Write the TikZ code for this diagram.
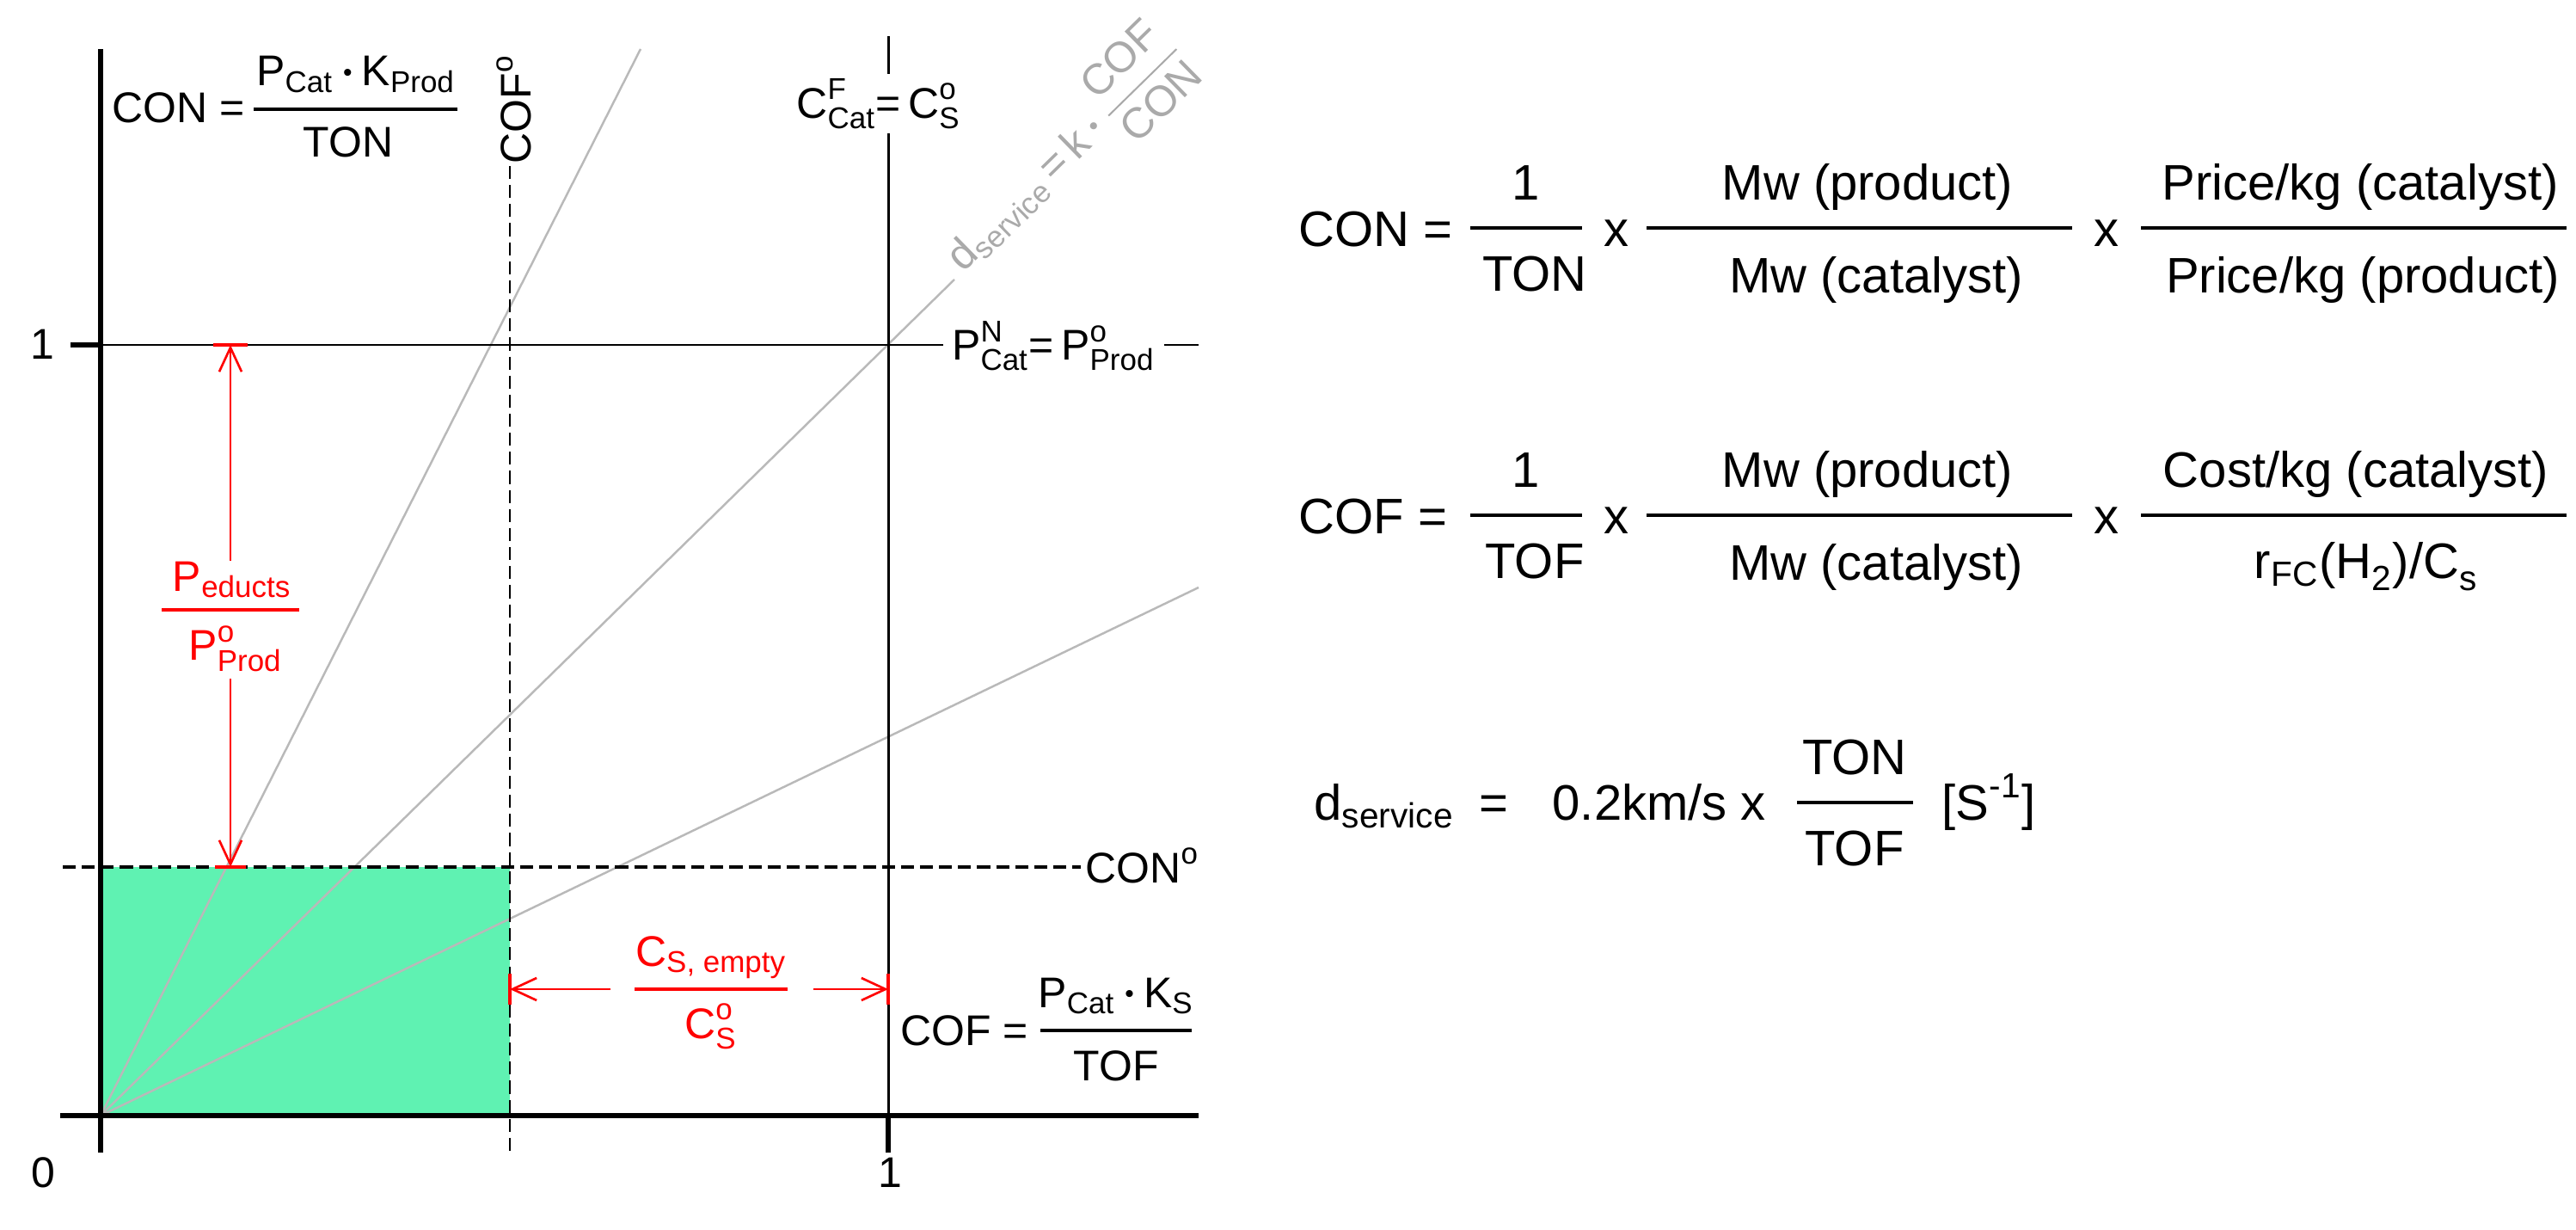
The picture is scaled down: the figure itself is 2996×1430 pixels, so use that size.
\documentclass[tikz,border=0pt]{standalone}
\usepackage{fontspec}
\setmainfont{Liberation Sans}
\usepackage{amsmath}
\usetikzlibrary{arrows.meta}
\newcommand\tx[1]{\text{#1}}
\newcommand\bdot{\mathbin{\vcenter{\hbox{\scalebox{0.6}{\textbullet}}}}}
\newcommand\Lf{\fontsize{14.2}{17}\selectfont}
\newcommand\Rf{\fontsize{16.5}{20}\selectfont}
\definecolor{mint}{RGB}{95,242,178}
\definecolor{lgray}{RGB}{185,185,185}
\definecolor{tgray}{RGB}{170,170,170}
\begin{document}
\begin{tikzpicture}[x=0.01cm,y=-0.01cm,
  axis/.style={line width=1.7pt},
  thinline/.style={line width=0.85pt},
  dashv/.style={line width=0.8pt, dash pattern=on 4.3pt off 2pt},
  dashh/.style={line width=1.1pt, dash pattern=on 4.3pt off 2pt},
  ray/.style={lgray, line width=0.7pt},
  fbar/.style={line width=1.1pt},
  lbl/.style={font=\Lf, inner sep=0pt},
  rlbl/.style={font=\Rf, inner sep=0pt},
  redarr/.style={red, line width=0.75pt, -{Straight Barb[length=2.8mm,width=2.6mm,line width=0.75pt]}},
  redbar/.style={red, line width=1.3pt},
  redfbar/.style={red, line width=0.9pt},
]
\useasboundingbox (0,0) rectangle (2996,1430);

% key coordinates
\coordinate (O) at (117,1297);
\coordinate (X1) at (1033,1297);
\coordinate (Y1) at (117,401);
\coordinate (C1) at (1033,401);
\coordinate (CONo) at (117,1008);
\coordinate (COFo) at (593,1297);

% green region
\fill[mint] (CONo) rectangle (COFo);

% gray rays
\draw[ray] (O) -- (745,57);
\draw[ray] (O) -- (1110,325) coordinate (rayend);
\draw[ray] (O) -- (1394,683);

% dashed lines
\draw[dashh] (73,1008) -- (1257,1008);
\draw[dashv] (593,193) -- (593,1340);

% unit lines
\draw[thinline] (82,401) -- (1394,401);
\draw[axis] (82,401) -- (Y1);
\draw[thinline] (1033,42) -- (X1);
\draw[axis] (X1) -- (1033,1340);

% axes
\draw[axis] (117,57) -- (117,1340);
\draw[axis] (70,1297) -- (1394,1297);

% axis numbers
\node[lbl, anchor=base] (zero) at (50,1380) {0};
\node[lbl, anchor=base] (onex) at (1035,1380) {1};
\node[lbl, anchor=base] (oney) at (49,417) {1};

% top-left CON label
\node[lbl, anchor=base west] (conL) at (130,143) {CON =};
\draw[fbar] (295,127) -- (532,127);
\node[lbl, anchor=base] (conLn) at (414,100) {$\tx{P}_{\tx{Cat}}\bdot\tx{K}_{\tx{Prod}}$};
\node[lbl, anchor=base] (conLd) at (405,182) {TON};

% COF° rotated
\node[lbl, rotate=90, anchor=center] (cofo) at (598,127) {$\tx{COF}^{\tx{o}}$};

% C^F_Cat = C^o_S
\node[lbl, fill=white, inner xsep=2pt, inner ysep=1.5pt, anchor=base] (cfc) at (1022,137)
  {$\tx{C}^{\tx{F}}_{\tx{Cat}}\tx{=}\,\tx{C}^{\tx{o}}_{\tx{S}}$};

% P^N_Cat = P^o_Prod
\node[lbl, fill=white, inner xsep=3pt, inner ysep=1.5pt, anchor=base west] (pnp) at (1096,418)
  {$\tx{P}^{\tx{N}}_{\tx{Cat}}\tx{=}\,\tx{P}^{\tx{o}}_{\tx{Prod}}$};

% CON°
\node[lbl, anchor=base west] (cono) at (1262,1026) {$\tx{CON}^{\tx{o}}$};

% COF label bottom right
\node[lbl, anchor=base west] (cofL) at (1047,1215) {COF =};
\draw[fbar] (1210,1198) -- (1386,1198);
\node[lbl, anchor=base] (cofLn) at (1298,1171) {$\tx{P}_{\tx{Cat}}\bdot\tx{K}_{\tx{S}}$};
\node[lbl, anchor=base] (cofLd) at (1298,1256) {TOF};

% d_service rotated label
\node[lbl, text=tgray, rotate=44.4, anchor=base west] (dserv) at (1120,318)
  {$\tx{d}_{\tx{service}}\,\tx{=}\,\tx{k}\bdot\dfrac{\tx{COF}}{\tx{CON}}$};

% red vertical arrow
\coordinate (rt) at (268,401);
\coordinate (rb) at (268,1008);
\draw[redbar] (248,401) -- (288,401);
\draw[redbar] (250,1008) -- (286,1008);
\draw[redfbar] (188,709) -- (348,709);
\node[lbl, text=red, anchor=base] (pe) at (270,687) {$\tx{P}_{\tx{educts}}$};
\node[lbl, text=red, anchor=base] (pp) at (274,767) {$\tx{P}^{\tx{o}}_{\tx{Prod}}$};
\draw[redarr] (pe.north -| rt) -- (rt);
\draw[redarr] (pp.south -| rb) ++(0,8) -- (rb);

% red horizontal arrow
\coordinate (hl) at (593,1150);
\coordinate (hr) at (1033,1150);
\coordinate (hlt) at (710,1150);
\coordinate (hrt) at (946,1150);
\draw[redbar] (593,1132) -- (593,1168);
\draw[redbar] (1033,1132) -- (1033,1168);
\draw[redfbar] (738,1150) -- (916,1150);
\node[lbl, text=red, anchor=base] (cse) at (827,1123) {$\tx{C}_{\tx{S, empty}}$};
\node[lbl, text=red, anchor=base] (cso) at (827,1207) {$\tx{C}^{\tx{o}}_{\tx{S}}$};
\draw[redarr] (hlt) -- (hl);
\draw[redarr] (hrt) -- (hr);

% ---------- right panel ----------
% row 1
\node[rlbl, anchor=base west] (r1a) at (1510,286) {CON =};
\draw[fbar] (1710,265) -- (1840,265);
\node[rlbl, anchor=base] (r1n1) at (1775,232) {1};
\node[rlbl, anchor=base] (r1d1) at (1785,338) {TON};
\node[rlbl, anchor=base] (r1x1) at (1880,286) {x};
\draw[fbar] (1915,265) -- (2410,265);
\node[rlbl, anchor=base] (r1n2) at (2172,232) {Mw (product)};
\node[rlbl, anchor=base] (r1d2) at (2182,340) {Mw (catalyst)};
\node[rlbl, anchor=base] (r1x2) at (2450,286) {x};
\draw[fbar] (2490,265) -- (2985,265);
\node[rlbl, anchor=base] (r1n3) at (2745,232) {Price/kg (catalyst)};
\node[rlbl, anchor=base] (r1d3) at (2748,340) {Price/kg (product)};

% row 2
\node[rlbl, anchor=base west] (r2a) at (1510,620) {COF =};
\draw[fbar] (1710,599) -- (1840,599);
\node[rlbl, anchor=base] (r2n1) at (1775,566) {1};
\node[rlbl, anchor=base] (r2d1) at (1785,672) {TOF};
\node[rlbl, anchor=base] (r2x1) at (1880,620) {x};
\draw[fbar] (1915,599) -- (2410,599);
\node[rlbl, anchor=base] (r2n2) at (2172,566) {Mw (product)};
\node[rlbl, anchor=base] (r2d2) at (2182,674) {Mw (catalyst)};
\node[rlbl, anchor=base] (r2x2) at (2450,620) {x};
\draw[fbar] (2490,599) -- (2985,599);
\node[rlbl, anchor=base] (r2n3) at (2740,566) {Cost/kg (catalyst)};
\node[rlbl, anchor=base] (r2d3) at (2752,672) {$\tx{r}_{\tx{FC}}\tx{(H}_{\tx{2}}\tx{)/C}_{\tx{s}}$};

% row 3
\node[rlbl, anchor=base west] (r3a) at (1528,953) {$\tx{d}_{\tx{service}}$};
\node[rlbl, anchor=base] (r3eq) at (1737,953) {=};
\node[rlbl, anchor=base west] (r3b) at (1805,953) {0.2km/s x};
\draw[fbar] (2090,933) -- (2225,933);
\node[rlbl, anchor=base] (r3n) at (2157,900) {TON};
\node[rlbl, anchor=base] (r3d) at (2157,1006) {TOF};
\node[rlbl, anchor=base west] (r3c) at (2258,953) {$\tx{[S}^{\tx{-1}}\tx{]}$};
\end{tikzpicture}
\end{document}
